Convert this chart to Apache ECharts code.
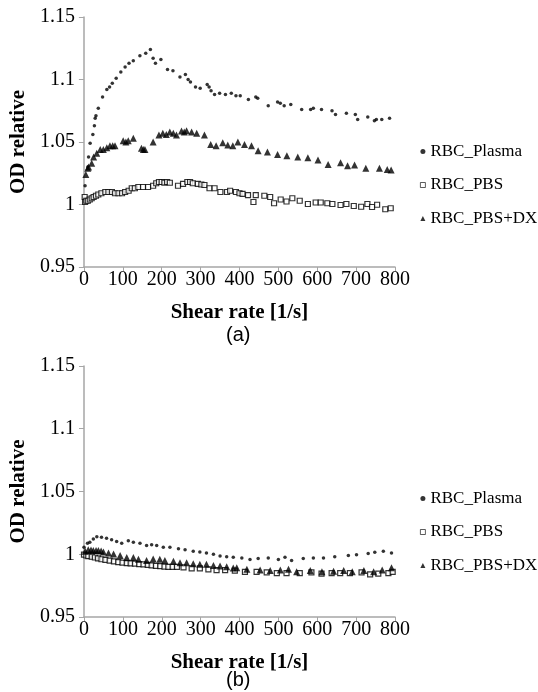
<!DOCTYPE html>
<html>
<head>
<meta charset="utf-8">
<script src="https://cdn.jsdelivr.net/npm/echarts@6/dist/echarts.min.js"></script>
<style>
  html, body { margin: 0; padding: 0; background: #fff; }
  #chart { width: 538px; height: 692px; }
</style>
</head>
<body>
<div id="chart"></div>
<script>
// legend names
var seriesNames = ['RBC_Plasma', 'RBC_PBS', 'RBC_PBS+DX'];

// (a) shear rate [1/s], OD relative
var plasmaA = [
  [3, 1.015], [10, 1.030], [12, 1.038], [16, 1.049], [23, 1.056], [27, 1.063], [29, 1.069],
  [31, 1.071], [37, 1.077], [48, 1.086], [59, 1.092], [66, 1.094], [73, 1.097], [83, 1.101],
  [95, 1.106], [106, 1.110], [116, 1.113], [127, 1.115], [144, 1.119], [159, 1.121], [171, 1.124],
  [178, 1.117], [184, 1.113], [198, 1.116], [215, 1.108], [229, 1.107], [247, 1.102], [261, 1.104],
  [268, 1.100], [274, 1.098], [287, 1.094], [299, 1.093], [317, 1.096], [322, 1.094], [327, 1.091],
  [336, 1.088], [349, 1.089], [364, 1.088], [379, 1.089], [391, 1.087], [402, 1.087], [423, 1.084],
  [442, 1.086], [447, 1.085], [474, 1.079], [498, 1.082], [505, 1.081], [515, 1.079], [532, 1.080],
  [560, 1.076], [583, 1.076], [590, 1.077], [611, 1.076], [638, 1.075], [647, 1.072], [675, 1.073],
  [698, 1.072], [704, 1.068], [730, 1.070], [747, 1.067], [752, 1.068], [766, 1.068], [786, 1.069]
];
var pbsA = [
  [2, 1.006], [3, 1.002], [6, 1.003], [10, 1.003], [15, 1.004], [20, 1.005], [25, 1.006],
  [31, 1.007], [37, 1.008], [45, 1.009], [55, 1.010], [63, 1.010], [72, 1.010], [80, 1.009],
  [89, 1.009], [98, 1.009], [106, 1.010], [115, 1.011], [123, 1.013], [131, 1.013], [140, 1.014],
  [152, 1.014], [165, 1.014], [178, 1.015], [186, 1.017], [193, 1.018], [200, 1.018], [207, 1.0175],
  [214, 1.018], [221, 1.0174], [242, 1.015], [255, 1.0165], [266, 1.018], [273, 1.018], [280, 1.017],
  [293, 1.0165], [302, 1.016], [310, 1.0156], [323, 1.013], [336, 1.013], [351, 1.010], [368, 1.010],
  [376, 1.011], [391, 1.010], [400, 1.009], [408, 1.0085], [422, 1.0075], [436, 1.002], [442, 1.0075],
  [464, 1.007], [479, 1.006], [489, 1.001], [506, 1.004], [521, 1.0024], [536, 1.005], [555, 1.003],
  [576, 1.0004], [596, 1.0016], [609, 1.0016], [626, 1.001], [639, 1.0004], [660, 0.9996], [675, 1.0004],
  [694, 0.9988], [713, 0.9982], [729, 1.0004], [741, 0.998], [754, 0.9998], [775, 0.9962], [789, 0.997]
];
var dxA = [
  [5, 1.024], [10, 1.029], [12, 1.030], [20, 1.033], [25, 1.038], [33, 1.041], [42, 1.044],
  [50, 1.044], [59, 1.0455], [67, 1.047], [74, 1.047], [80, 1.047], [101, 1.051], [108, 1.050],
  [114, 1.051], [127, 1.053], [148, 1.045], [153, 1.044], [157, 1.044], [178, 1.050], [193, 1.0556],
  [203, 1.057], [212, 1.056], [221, 1.058], [230, 1.057], [238, 1.0556], [251, 1.0588], [258, 1.058],
  [264, 1.059], [277, 1.058], [290, 1.057], [310, 1.0556], [326, 1.048], [340, 1.047], [357, 1.0495],
  [370, 1.0476], [383, 1.047], [396, 1.050], [413, 1.048], [431, 1.047], [448, 1.043], [472, 1.042],
  [498, 1.040], [522, 1.039], [550, 1.038], [576, 1.0375], [602, 1.0356], [628, 1.032], [660, 1.0334],
  [678, 1.031], [696, 1.0316], [725, 1.029], [760, 1.029], [780, 1.028], [790, 1.0276]
];

// (b)
var plasmaB = [
  [0, 1.0055], [9, 1.0088], [15, 1.0096], [24, 1.0122], [33, 1.014], [45, 1.0136], [58, 1.0128],
  [71, 1.0115], [84, 1.0102], [97, 1.0088], [114, 1.0107], [127, 1.0096], [144, 1.0088], [161, 1.007],
  [174, 1.0075], [187, 1.007], [204, 1.0055], [221, 1.0055], [243, 1.0044], [260, 1.0036], [281, 1.0023],
  [298, 1.0018], [315, 1.001], [333, 1.000], [350, 0.9987], [367, 0.998], [384, 0.9977], [406, 0.997],
  [427, 0.9958], [448, 0.9966], [474, 0.997], [500, 0.9958], [517, 0.9977], [534, 0.995], [564, 0.9966],
  [590, 0.997], [616, 0.997], [645, 0.998], [680, 0.999], [701, 0.9996], [731, 1.0005], [748, 1.0015],
  [770, 1.0023], [791, 1.001]
];
var pbsB = [
  [0, 0.9997], [6, 0.999], [11, 0.9985], [20, 0.998], [28, 0.9974], [36, 0.9967], [45, 0.996],
  [55, 0.9955], [66, 0.995], [77, 0.9943], [88, 0.9937], [99, 0.9933], [110, 0.993], [120, 0.9928],
  [131, 0.9925], [142, 0.9922], [153, 0.992], [164, 0.9916], [174, 0.9912], [185, 0.9908], [196, 0.9905],
  [207, 0.9902], [217, 0.990], [228, 0.990], [239, 0.990], [256, 0.9895], [277, 0.9888], [298, 0.9888],
  [320, 0.988], [341, 0.9874], [363, 0.9874], [388, 0.987], [414, 0.986], [444, 0.986], [470, 0.9855],
  [496, 0.985], [521, 0.985], [555, 0.985], [585, 0.9855], [611, 0.9845], [637, 0.985], [659, 0.985],
  [684, 0.985], [714, 0.9855], [736, 0.984], [757, 0.9845], [783, 0.985], [794, 0.986]
];
var dxB = [
  [3, 1.0023], [11, 1.0036], [18, 1.0033], [24, 1.003], [31, 1.003], [37, 1.003], [44, 1.0025],
  [50, 1.0018], [63, 1.001], [76, 1.0002], [93, 0.999], [110, 0.9974], [127, 0.9974], [140, 0.996],
  [161, 0.995], [178, 0.9963], [195, 0.996], [208, 0.995], [230, 0.9945], [247, 0.9933], [264, 0.9933],
  [281, 0.9925], [298, 0.992], [315, 0.992], [333, 0.9911], [350, 0.9906], [367, 0.990], [384, 0.989],
  [393, 0.9893], [419, 0.988], [453, 0.9875], [479, 0.987], [505, 0.9875], [526, 0.988], [547, 0.986],
  [582, 0.987], [612, 0.986], [642, 0.9865], [668, 0.987], [690, 0.986], [720, 0.987], [745, 0.986],
  [767, 0.9875], [791, 0.9893]
];

var serif = 'Liberation Serif';
var axisGrey = '#a6a6a6';

function xAxisFor(grid) {
  return {
    type: 'value', gridIndex: grid, min: 0, max: 800, interval: 100,
    name: 'Shear rate [1/s]', nameLocation: 'middle', nameGap: 35,
    nameTextStyle: { fontFamily: serif, fontWeight: 'bold', fontSize: 21, color: '#000' },
    axisLine: { show: true, lineStyle: { color: axisGrey, width: 1.5 } },
    axisTick: { show: true, length: 4, lineStyle: { color: axisGrey } },
    axisLabel: { fontFamily: serif, fontSize: 20, color: '#000', margin: 3 },
    splitLine: { show: false }
  };
}
function yAxisFor(grid) {
  return {
    type: 'value', gridIndex: grid, min: 0.95, max: 1.15, interval: 0.05,
    name: 'OD relative', nameLocation: 'middle', nameGap: 50,
    nameTextStyle: { fontFamily: serif, fontWeight: 'bold', fontSize: 21, color: '#000' },
    axisLine: { show: true, lineStyle: { color: axisGrey, width: 1.5 } },
    axisTick: { show: true, length: 5, lineStyle: { color: axisGrey } },
    axisLabel: {
      fontFamily: serif, fontSize: 20, color: '#000', margin: 9,
      formatter: function (v) { return String(+v.toFixed(2)); }
    },
    splitLine: { show: false }
  };
}

var styles = [
  { symbol: 'circle', symbolSize: 3.5, itemStyle: { color: '#000' } },
  { symbol: 'rect', symbolSize: 5, itemStyle: { color: '#fff', borderColor: '#000', borderWidth: 1.2 } },
  { symbol: 'triangle', symbolSize: 7, itemStyle: { color: '#000' } }
];

var dataSets = [[plasmaA, pbsA, dxA], [plasmaB, pbsB, dxB]];
var series = [];
for (var g = 0; g < 2; g++) {
  for (var i = 0; i < 3; i++) {
    series.push({
      name: seriesNames[i],
      type: 'scatter',
      xAxisIndex: g, yAxisIndex: g,
      symbol: styles[i].symbol,
      symbolSize: styles[i].symbolSize,
      itemStyle: styles[i].itemStyle,
      data: dataSets[g][i],
      animation: false
    });
  }
}

function legendAt(top) {
  return {
    data: seriesNames, orient: 'vertical', left: 415, top: top,
    itemWidth: 5, itemHeight: 5, itemGap: 16.5,
    itemStyle: { borderWidth: 0.8 },
    textStyle: { fontFamily: serif, fontSize: 17, color: '#000' },
    selectedMode: false
  };
}

var chart = echarts.init(document.getElementById('chart'));
chart.setOption({
  backgroundColor: '#fff',
  animation: false,
  grid: [
    { left: 82, top: 17, width: 313, height: 250 },
    { left: 84, top: 366, width: 311, height: 251 }
  ],
  xAxis: [xAxisFor(0), xAxisFor(1)],
  yAxis: [yAxisFor(0), yAxisFor(1)],
  legend: [legendAt(138), legendAt(485)],
  graphic: [
    { type: 'text', left: 226, top: 325, style: { text: '(a)', font: '20px "Liberation Sans"', fill: '#000' } },
    { type: 'text', left: 226, top: 670, style: { text: '(b)', font: '20px "Liberation Sans"', fill: '#000' } }
  ],
  series: series
});
</script>
</body>
</html>
